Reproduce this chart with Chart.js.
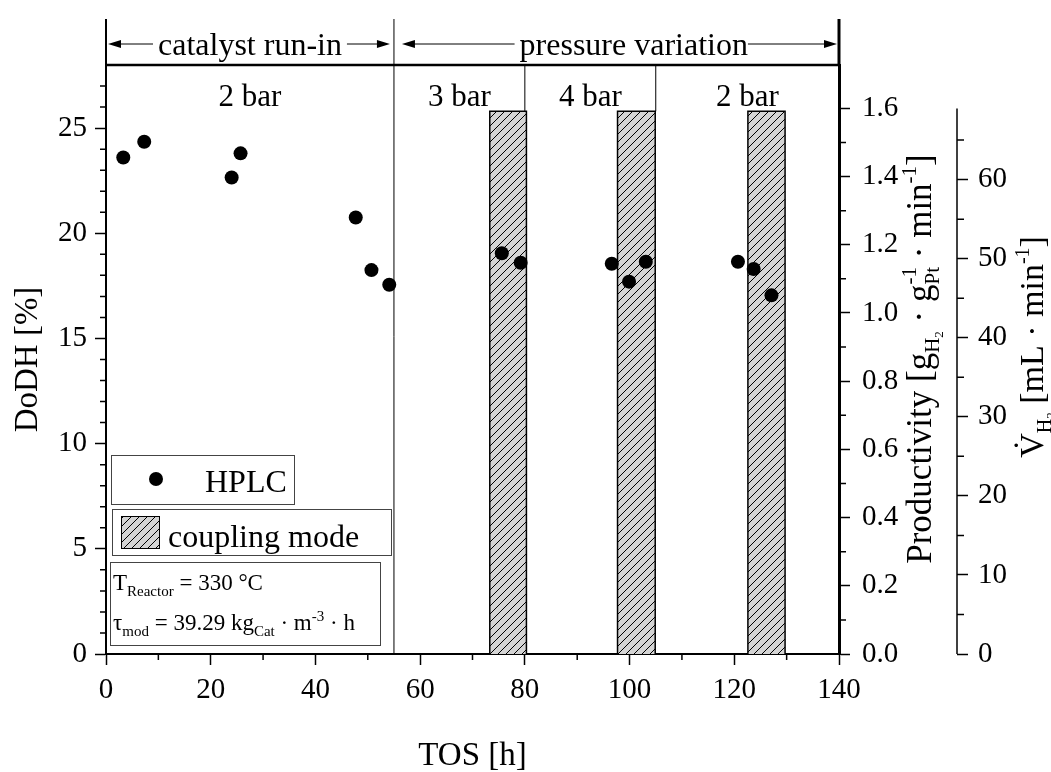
<!DOCTYPE html>
<html>
<head>
<meta charset="utf-8">
<script src="https://cdn.jsdelivr.net/npm/chart.js@4.4.0/dist/chart.umd.min.js"></script>
<style>
  html, body { margin: 0; padding: 0; background: #fff; }
  #wrap { width: 1051px; height: 772px; position: relative; }
</style>
</head>
<body>
<div id="wrap"><canvas id="chart"></canvas></div>
<script>
// --- values ---
const hplcTime = [3.3, 7.3, 24.0, 25.7, 47.7, 50.7, 54.1, 75.6, 79.2, 96.6, 99.9, 103.1, 120.7, 123.7, 127.1];
const hplcDoDH = [23.6, 24.35, 22.65, 23.8, 20.75, 18.25, 17.55, 19.05, 18.6, 18.55, 17.7, 18.65, 18.65, 18.3, 17.05];

// coupling mode windows (TOS, h) and their height on the DoDH axis
const couplingStart = [73.3, 97.7, 122.6];
const couplingEnd = [80.3, 104.9, 129.7];
const couplingTop = 25.8;

const phaseEdges = [0, 55, 140];
const phaseLabels = ['catalyst run-in', 'pressure variation'];
const phaseCenters = [27.5, 100.8];
const pressureEdges = [0, 55, 80, 105, 140];
const pressureLabels = ['2 bar', '3 bar', '4 bar', '2 bar'];

const xTicks = [0, 20, 40, 60, 80, 100, 120, 140];
const xMinor = [10, 30, 50, 70, 90, 110, 130];
const dodhTicks = [0, 5, 10, 15, 20, 25];
const dodhMinor = [1, 2, 3, 4, 6, 7, 8, 9, 11, 12, 13, 14, 16, 17, 18, 19, 21, 22, 23, 24, 26, 27];
const prodTicks = [0, 0.2, 0.4, 0.6, 0.8, 1.0, 1.2, 1.4, 1.6];
const prodMinor = [0.1, 0.3, 0.5, 0.7, 0.9, 1.1, 1.3, 1.5];
const flowTicks = [0, 10, 20, 30, 40, 50, 60];
const flowMinor = [5, 15, 25, 35, 45, 55, 65];
const flowAxisTop = 69;

const SERIF = "'Liberation Serif', 'Times New Roman', serif";
Chart.defaults.font.family = SERIF;
Chart.defaults.color = '#000';

// hatch fill for the coupling mode bars
function makeHatch() {
    const c = document.createElement('canvas');
    c.width = 8; c.height = 8;
    const g = c.getContext('2d');
    g.fillStyle = '#d4d4d4';
    g.fillRect(0, 0, 8, 8);
    g.strokeStyle = '#000';
    g.lineWidth = 1;
    g.beginPath();
    g.moveTo(0, 8); g.lineTo(8, 0);
    g.moveTo(-2, 2); g.lineTo(2, -2);
    g.moveTo(6, 10); g.lineTo(10, 6);
    g.stroke();
    return g.createPattern(c, 'repeat');
}
const hatch = makeHatch();

// bars as closed outlines, one gap between each window
const barPoints = [];
couplingStart.forEach((s, i) => {
    const e = couplingEnd[i];
    barPoints.push({ x: s, y: 0 }, { x: s, y: couplingTop }, { x: e, y: couplingTop }, { x: e, y: 0 }, { x: e, y: null });
});
const hplcPoints = hplcTime.map((t, i) => ({ x: t, y: hplcDoDH[i] }));

// --- text with sub/superscripts ---
function layoutRich(ctx, parts) {
    let x = 0, prevStart = 0, prevW = 0;
    const items = [];
    parts.forEach(p => {
        ctx.font = p.size + 'px ' + SERIF;
        const w = ctx.measureText(p.t).width;
        let px = x;
        if (p.stack) {
            px = prevStart;
            x = prevStart + Math.max(prevW, w);
        } else {
            x += w;
        }
        items.push({ t: p.t, size: p.size, dy: p.dy || 0, x: px });
        prevStart = px; prevW = w;
    });
    return { items, width: x };
}

function drawRich(ctx, parts, cx, cy, rot, align) {
    const L = layoutRich(ctx, parts);
    ctx.save();
    ctx.translate(cx, cy);
    ctx.rotate(rot);
    ctx.textAlign = 'left';
    ctx.textBaseline = 'alphabetic';
    ctx.fillStyle = '#000';
    const x0 = align === 'left' ? 0 : -L.width / 2;
    L.items.forEach(it => {
        ctx.font = it.size + 'px ' + SERIF;
        ctx.fillText(it.t, x0 + it.x, it.dy);
    });
    ctx.restore();
}

const prodTitle = [
    { t: 'Productivity [g', size: 35 },
    { t: 'H', size: 21, dy: 8 },
    { t: '2', size: 13, dy: 12 },
    { t: ' \u00b7 g', size: 35 },
    { t: 'Pt', size: 21, dy: 8 },
    { t: '-1', size: 21, dy: -15, stack: true },
    { t: ' \u00b7 min', size: 35 },
    { t: '-1', size: 21, dy: -15 },
    { t: ']', size: 35 }
];
const flowTitle = [
    { t: 'V\u0307', size: 34 },
    { t: 'H', size: 20, dy: 8 },
    { t: '2', size: 13, dy: 12 },
    { t: ' [mL \u00b7 min', size: 34 },
    { t: '-1', size: 20, dy: -14 },
    { t: ']', size: 34 }
];
const tempLine = [
    { t: 'T', size: 23 },
    { t: 'Reactor', size: 15, dy: 6 },
    { t: ' = 330 \u00b0C', size: 23 }
];
const tauLine = [
    { t: '\u03c4', size: 23 },
    { t: 'mod', size: 15, dy: 6 },
    { t: ' = 39.29 kg', size: 23 },
    { t: 'Cat', size: 15, dy: 6 },
    { t: ' \u00b7 m', size: 23 },
    { t: '-3', size: 15, dy: -9 },
    { t: ' \u00b7 h', size: 23 }
];

function arrow(ctx, x1, x2, y) {
    const dir = Math.sign(x2 - x1);
    ctx.beginPath();
    ctx.moveTo(x1, y);
    ctx.lineTo(x2 - dir * 10, y);
    ctx.lineWidth = 1;
    ctx.stroke();
    ctx.beginPath();
    ctx.moveTo(x2, y);
    ctx.lineTo(x2 - dir * 13, y - 4);
    ctx.lineTo(x2 - dir * 13, y + 4);
    ctx.closePath();
    ctx.fill();
}

const overlay = {
    id: 'overlay',
    afterDraw(chart) {
        const { ctx, chartArea: a, scales } = chart;
        const xs = scales.x, ys = scales.y, yp = scales.y1, yf = scales.y2;
        const headerTop = 19;
        ctx.save();
        ctx.strokeStyle = '#000';
        ctx.fillStyle = '#000';

        // minor ticks
        ctx.lineWidth = 1.5;
        ctx.beginPath();
        xMinor.forEach(v => { const p = xs.getPixelForValue(v); ctx.moveTo(p, a.bottom); ctx.lineTo(p, a.bottom + 6); });
        dodhMinor.forEach(v => { const p = ys.getPixelForValue(v); ctx.moveTo(a.left, p); ctx.lineTo(a.left - 6, p); });
        prodMinor.forEach(v => { const p = yp.getPixelForValue(v); ctx.moveTo(a.right, p); ctx.lineTo(a.right + 7, p); });
        flowMinor.forEach(v => { const p = yf.getPixelForValue(v); ctx.moveTo(yf.left, p); ctx.lineTo(yf.left + 7, p); });
        ctx.stroke();

        // third axis line, only as tall as its scale
        ctx.beginPath();
        ctx.lineWidth = 1.5;
        ctx.moveTo(yf.left, yf.getPixelForValue(0));
        ctx.lineTo(yf.left, yf.getPixelForValue(flowAxisTop));
        ctx.stroke();

        // top frame line
        ctx.beginPath();
        ctx.lineWidth = 2.5;
        ctx.moveTo(a.left - 1, a.top);
        ctx.lineTo(a.right + 1, a.top);
        ctx.stroke();

        // header verticals
        const x0 = xs.getPixelForValue(phaseEdges[0]);
        const x1 = xs.getPixelForValue(phaseEdges[1]);
        const x2 = xs.getPixelForValue(phaseEdges[2]);
        ctx.lineWidth = 2;
        ctx.beginPath(); ctx.moveTo(x0, headerTop); ctx.lineTo(x0, a.top); ctx.stroke();
        ctx.lineWidth = 3;
        ctx.beginPath(); ctx.moveTo(x2, headerTop); ctx.lineTo(x2, a.top); ctx.stroke();
        ctx.lineWidth = 1;
        ctx.beginPath(); ctx.moveTo(x1, headerTop); ctx.lineTo(x1, a.bottom); ctx.stroke();

        // pressure dividers down to the bar tops
        const barTopPx = ys.getPixelForValue(couplingTop);
        ctx.beginPath();
        pressureEdges.slice(2, -1).forEach(v => {
            const p = xs.getPixelForValue(v);
            ctx.moveTo(p, a.top); ctx.lineTo(p, barTopPx);
        });
        ctx.stroke();

        // phase labels with arrows
        ctx.font = '32px ' + SERIF;
        ctx.textAlign = 'center';
        ctx.textBaseline = 'alphabetic';
        const arrowY = 44;
        phaseLabels.forEach((txt, i) => {
            const c = xs.getPixelForValue(phaseCenters[i]);
            const w = ctx.measureText(txt).width;
            ctx.fillText(txt, c, 55);
            const l = xs.getPixelForValue(phaseEdges[i]);
            const r = xs.getPixelForValue(phaseEdges[i + 1]);
            arrow(ctx, c - w / 2 - 5, l + (i === 0 ? 2 : 8), arrowY);
            arrow(ctx, c + w / 2 + (i === 0 ? 5 : 0), r - (i === 0 ? 4 : 2), arrowY);
        });

        // pressure labels
        ctx.font = '31px ' + SERIF;
        pressureLabels.forEach((txt, i) => {
            const c = (xs.getPixelForValue(pressureEdges[i]) + xs.getPixelForValue(pressureEdges[i + 1])) / 2;
            ctx.fillText(txt, c, 106);
        });

        // right axis titles
        drawRich(ctx, prodTitle, 931, 359, -Math.PI / 2);
        drawRich(ctx, flowTitle, 1043, 347, -Math.PI / 2);

        // legend boxes
        ctx.lineWidth = 1;
        ctx.strokeStyle = '#444';
        ctx.fillStyle = '#fff';
        ctx.fillRect(111, 455, 183, 49);
        ctx.strokeRect(111.5, 455.5, 183, 49);
        ctx.fillRect(112, 509, 279, 46);
        ctx.strokeRect(112.5, 509.5, 279, 46);
        ctx.fillRect(110, 562, 270, 83);
        ctx.strokeRect(110.5, 562.5, 270, 83);

        ctx.fillStyle = '#000';
        ctx.beginPath();
        ctx.arc(156, 479, 7, 0, Math.PI * 2);
        ctx.fill();
        ctx.font = '32px ' + SERIF;
        ctx.textAlign = 'left';
        ctx.fillText('HPLC', 205, 492);

        ctx.fillStyle = hatch;
        ctx.fillRect(121, 516, 38, 32);
        ctx.strokeStyle = '#000';
        ctx.strokeRect(121.5, 516.5, 38, 32);
        ctx.fillStyle = '#000';
        ctx.fillText('coupling mode', 168, 547);

        drawRich(ctx, tempLine, 113, 590, 0, 'left');
        drawRich(ctx, tauLine, 113, 630, 0, 'left');

        ctx.restore();
    }
};

const tickFont = { family: SERIF, size: 29 };
const titleFont = { family: SERIF, size: 33, lineHeight: 1 };
const setTicks = arr => s => { s.ticks = arr.map(v => ({ value: v })); };

new Chart(document.getElementById('chart'), {
    type: 'scatter',
    data: {
        datasets: [
            {
                label: 'HPLC',
                data: hplcPoints,
                xAxisID: 'x',
                yAxisID: 'y',
                pointRadius: 7,
                pointBackgroundColor: '#000',
                pointBorderWidth: 0,
                showLine: false,
                order: 0
            },
            {
                type: 'line',
                label: 'coupling mode',
                data: barPoints,
                xAxisID: 'x',
                yAxisID: 'y',
                fill: 'origin',
                backgroundColor: hatch,
                borderColor: '#000',
                borderWidth: 1.5,
                pointRadius: 0,
                tension: 0,
                spanGaps: false,
                order: 1
            }
        ]
    },
    options: {
        responsive: true,
        maintainAspectRatio: false,
        animation: false,
        layout: { padding: { top: 65, left: 0, right: 0, bottom: 0 } },
        plugins: { legend: { display: false }, tooltip: { enabled: false } },
        scales: {
            x: {
                type: 'linear', position: 'bottom', min: 0, max: 140,
                afterBuildTicks: setTicks(xTicks),
                afterFit: s => { s.height = 118; },
                ticks: { font: tickFont, color: '#000', padding: 8, maxRotation: 0, autoSkip: false },
                grid: { drawOnChartArea: false, drawTicks: true, tickLength: 11, tickColor: '#000', tickWidth: 1.5 },
                border: { display: true, color: '#000', width: 2 },
                title: { display: true, text: 'TOS [h]', font: titleFont, color: '#000', padding: { top: 0, bottom: -1 } }
            },
            y: {
                type: 'linear', position: 'left', min: 0, max: 28,
                afterBuildTicks: setTicks(dodhTicks),
                afterFit: s => { s.width = 106; },
                ticks: { font: tickFont, color: '#000', padding: 8 },
                grid: { drawOnChartArea: false, drawTicks: true, tickLength: 11, tickColor: '#000', tickWidth: 1.5 },
                border: { display: true, color: '#000', width: 2 },
                title: { display: true, text: 'DoDH [%]', font: titleFont, color: '#000', padding: { top: 12, bottom: 0 } }
            },
            y1: {
                type: 'linear', position: 'right', min: 0, max: 1.727,
                afterBuildTicks: setTicks(prodTicks),
                afterFit: s => { s.width = 118; },
                ticks: { font: tickFont, color: '#000', padding: 12, callback: v => v.toFixed(1) },
                grid: { drawOnChartArea: false, drawTicks: true, tickLength: 11, tickColor: '#000', tickWidth: 1.5 },
                border: { display: true, color: '#000', width: 3 }
            },
            y2: {
                type: 'linear', position: 'right', min: 0, max: 74.5,
                afterBuildTicks: setTicks(flowTicks),
                afterFit: s => { s.width = 94; },
                ticks: { font: tickFont, color: '#000', padding: 10 },
                grid: { drawOnChartArea: false, drawTicks: true, tickLength: 11, tickColor: '#000', tickWidth: 1.5 },
                border: { display: false }
            }
        }
    },
    plugins: [overlay]
});
</script>
</body>
</html>
